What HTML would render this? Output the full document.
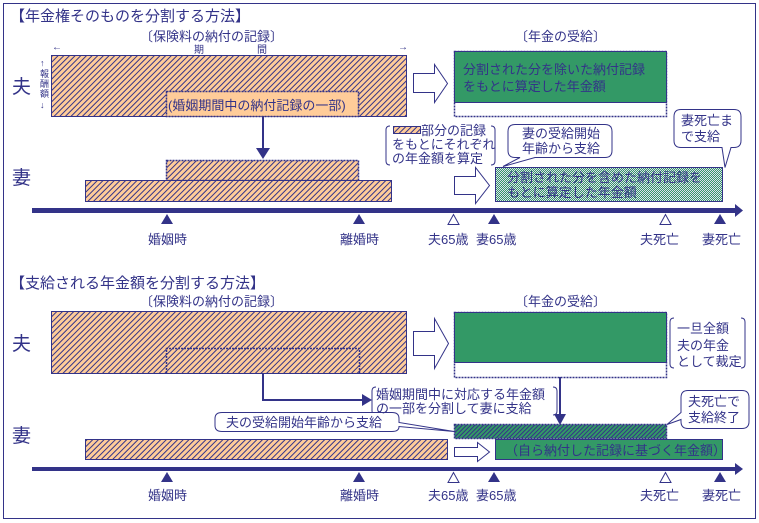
<!DOCTYPE html>
<html><head><meta charset="utf-8"><style>
html,body{margin:0;padding:0;background:#fff}
svg{display:block}
text{font-family:"Liberation Sans","Noto Sans CJK JP",sans-serif;fill:#333388}
</style></head><body>
<svg width="759" height="523" viewBox="0 0 759 523" xmlns="http://www.w3.org/2000/svg">
<defs>
<pattern id="h" width="4" height="4" patternUnits="userSpaceOnUse" patternTransform="rotate(45)">
<rect width="4" height="4" fill="#ffcc99"/><rect width="1" height="4" fill="#333388"/></pattern>
<pattern id="gh" width="3" height="3" patternUnits="userSpaceOnUse" patternTransform="rotate(45)">
<rect width="3" height="3" fill="#339966"/><rect width="1" height="3" fill="#333388"/></pattern>
<pattern id="ck" width="2" height="2" patternUnits="userSpaceOnUse">
<rect width="2" height="2" fill="#339966"/><rect width="1" height="1" fill="#dde"/><rect x="1" y="1" width="1" height="1" fill="#dde"/></pattern>
</defs>
<rect x="3.5" y="3.5" width="752" height="515" fill="#fff" stroke="#333388"/>
<g stroke="#333388" fill="none">
<rect x="51.5" y="55.5" width="355" height="61" fill="url(#h)"/>
<rect x="166.5" y="91.5" width="192" height="25" fill="#ffcc99" stroke-dasharray="2,1" stroke-width="1.5"/>
<line x1="263" y1="116" x2="263" y2="150" stroke-width="2"/>
<rect x="166.5" y="160.5" width="192" height="20" fill="url(#h)" stroke-dasharray="2,1" stroke-width="1.5"/>
<rect x="85.5" y="180.5" width="306" height="21" fill="url(#h)"/>
<polygon points="413.5,73.5 434.5,73.5 434.5,64.5 447.5,83.5 434.5,102.5 434.5,92.5 413.5,92.5" fill="#fff"/>
<polygon points="454.5,176.5 475.5,176.5 475.5,167.5 489.5,185.5 475.5,203.5 475.5,194.5 454.5,194.5" fill="#fff"/>
<rect x="454.5" y="51.5" width="212" height="65" stroke-dasharray="2,1" stroke-width="1.5"/>
<rect x="454.5" y="51.5" width="212" height="51" fill="#339966"/>
<rect x="495.5" y="167.5" width="227" height="34" fill="url(#ck)"/>
<path d="M390,126 q-4,0 -4,4 v31 q0,4 4,4 M491,126 q4,0 4,4 v31 q0,4 -4,4"/>
<rect x="393.5" y="126.5" width="27" height="7" fill="url(#h)"/>
<path d="M525,124.5 h80 q7,0 7,7 v19 q0,7 -7,7 h-70 l-32,9 l17,-9 h-5 q-7,0 -7,-7 v-19 q0,-7 7,-7z" fill="#fff"/>
<path d="M681,109.5 h53 q7,0 7,7 v24 q0,7 -7,7 h-3 l-6,20 l-3,-20 h-41 q-7,0 -7,-7 v-24 q0,-7 7,-7z" fill="#fff"/>
<rect x="51.5" y="311.5" width="355" height="62" fill="url(#h)"/>
<path d="M166.5,373 V348.5 H359.5 V373" stroke-dasharray="2,1" stroke-width="1.5"/>
<rect x="85.5" y="439.5" width="362" height="20" fill="url(#h)"/>
<polygon points="413.5,331.5 434.5,331.5 434.5,318.5 448.5,343.5 434.5,368.5 434.5,355.5 413.5,355.5" fill="#fff"/>
<polygon points="454.5,447.5 477.5,447.5 477.5,442.5 489.5,452 477.5,461.5 477.5,456.5 454.5,456.5" fill="#fff"/>
<rect x="454.5" y="312.5" width="212" height="65" stroke-dasharray="2,1" stroke-width="1.5"/>
<rect x="454.5" y="312.5" width="212" height="50" fill="#339966"/>
<rect x="454.5" y="424.5" width="212" height="14" fill="url(#gh)" stroke-dasharray="2,1" stroke-width="1.5"/>
<rect x="495.5" y="439.5" width="227" height="20" fill="#339966"/>
<path d="M674,318 q-4,0 -4,4 v42 q0,4 4,4 M741,318 q4,0 4,4 v42 q0,4 -4,4"/>
<path d="M376,387 q-4,0 -4,4 v20 q0,4 4,4 M553,387 q4,0 4,4 v20 q0,4 -4,4"/>
<polyline points="263,373 263,400 362,400" stroke-width="2"/>
<line x1="560" y1="377" x2="560" y2="416" stroke-width="2"/>
<path d="M222,412.5 h170 q7,0 7,6 v4 l55,9 l-55,-5 v0 q0,5 -7,5 h-170 q-7,0 -7,-6 v-7 q0,-6 7,-6z" fill="#fff"/>
<path d="M688,390.5 h54 q7,0 7,7 v24 q0,7 -7,7 h-54 q-7,0 -7,-7 v-2 l-14,5 l14,-12 v-15 q0,-7 7,-7z" fill="#fff"/>
</g>
<g fill="#333388">
<polygon points="256,148 270,148 263,159"/>
<polygon points="362,394 372,400 362,406"/>
<polygon points="554,414 566,414 560,425"/>
<rect x="32" y="208" width="704" height="5"/>
<polygon points="735,204 743,210.5 735,217"/>
<rect x="32" y="467" width="704" height="4"/>
<polygon points="735,463 743,469 735,475"/>
<polygon points="167,214 161,224 173,224"/><polygon points="359,214 353,224 365,224"/>
<polygon points="494,214 488,224 500,224"/><polygon points="720,214 714,224 726,224"/>
<polygon points="167,472 161,482 173,482"/><polygon points="359,472 353,482 365,482"/>
<polygon points="494,472 488,482 500,482"/><polygon points="720,472 714,482 726,482"/>
</g>
<g fill="#fff" stroke="#333388">
<polygon points="453.5,214.5 448,224.5 459,224.5"/><polygon points="665.5,214.5 660,224.5 671,224.5"/>
<polygon points="453.5,472.5 448,482.5 459,482.5"/><polygon points="665.5,472.5 660,482.5 671,482.5"/>
</g>
<g font-size="13">
<text x="10" y="21" font-size="15">【年金権そのものを分割する方法】</text>
<text x="140" y="41">〔保険料の納付の記録〕</text>
<text x="52" y="50" font-size="10">←</text><text x="398" y="50" font-size="10">→</text>
<text x="194" y="53" font-size="10">期</text><text x="257" y="53" font-size="10">間</text>
<text x="40" y="66" font-size="9">↑</text><text x="40" y="77" font-size="9">報</text><text x="40" y="87" font-size="9">酬</text><text x="40" y="97" font-size="9">額</text><text x="40" y="108" font-size="9">↓</text>
<text x="12" y="93" font-size="19">夫</text>
<text x="12" y="184" font-size="19">妻</text>
<text x="168" y="110">(婚姻期間中の納付記録の一部)</text>
<text x="515" y="41">〔年金の受給〕</text>
<text x="463" y="74">分割された分を除いた納付記録</text>
<text x="463" y="91">をもとに算定した年金額</text>
<text x="421" y="135">部分の記録</text>
<text x="392" y="149">をもとにそれぞれ</text>
<text x="392" y="163">の年金額を算定</text>
<text x="522" y="138">妻の受給開始</text>
<text x="522" y="153">年齢から支給</text>
<text x="681" y="125">妻死亡ま</text>
<text x="681" y="141">で支給</text>
<text x="507" y="182">分割された分を含めた納付記録を</text>
<text x="507" y="197">もとに算定した年金額</text>
<text x="148" y="244">婚姻時</text><text x="340" y="244">離婚時</text>
<text x="428" y="244">夫65歳</text><text x="476" y="244">妻65歳</text>
<text x="640" y="244">夫死亡</text><text x="702" y="244">妻死亡</text>
<text x="10" y="288" font-size="15">【支給される年金額を分割する方法】</text>
<text x="140" y="306">〔保険料の納付の記録〕</text>
<text x="515" y="306">〔年金の受給〕</text>
<text x="12" y="350" font-size="19">夫</text>
<text x="12" y="442" font-size="19">妻</text>
<text x="677" y="333">一旦全額</text>
<text x="677" y="350">夫の年金</text>
<text x="677" y="366">として裁定</text>
<text x="376" y="399">婚姻期間中に対応する年金額</text>
<text x="376" y="413">の一部を分割して妻に支給</text>
<text x="226" y="427">夫の受給開始年齢から支給</text>
<text x="688" y="406">夫死亡で</text>
<text x="688" y="422">支給終了</text>
<text x="505" y="455">（自ら納付した記録に基づく年金額）</text>
<text x="148" y="500">婚姻時</text><text x="340" y="500">離婚時</text>
<text x="428" y="500">夫65歳</text><text x="476" y="500">妻65歳</text>
<text x="640" y="500">夫死亡</text><text x="702" y="500">妻死亡</text>
</g>
</svg>
</body></html>
